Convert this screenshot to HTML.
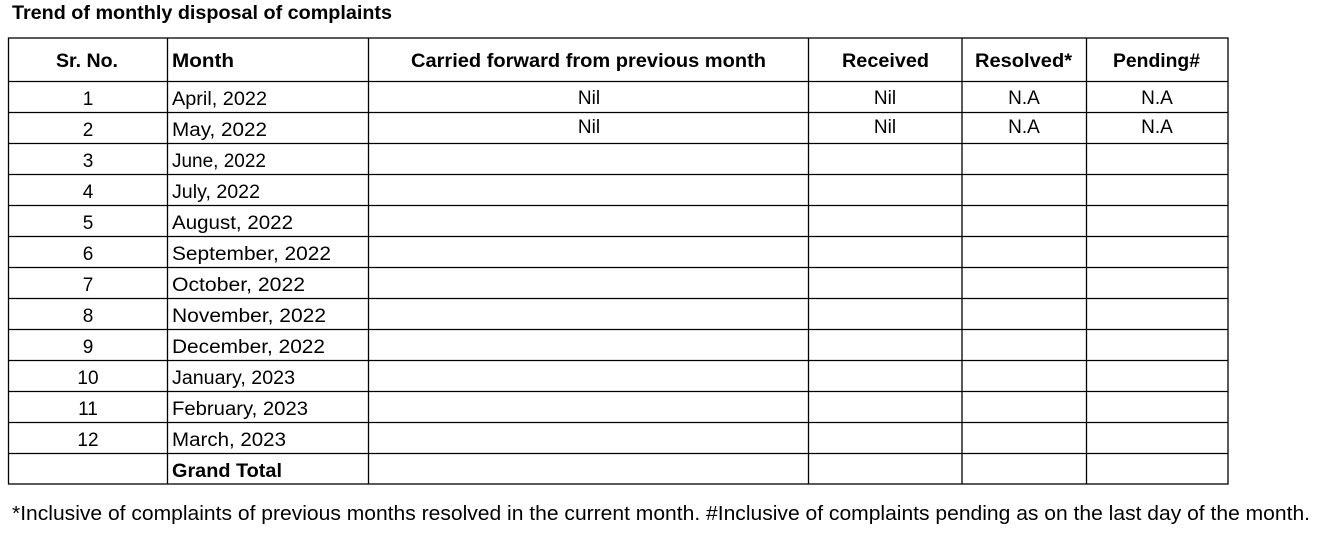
<!DOCTYPE html>
<html><head><meta charset="utf-8"><style>
html,body{margin:0;padding:0;background:#fff;}
svg{display:block;}
text{font-family:"Liberation Sans",sans-serif;fill:#000;}
.b{font-weight:bold;}
</style></head><body>
<svg width="1321" height="542" viewBox="0 0 1321 542" xmlns="http://www.w3.org/2000/svg">
<text x="12" y="19" class="b" font-size="19" textLength="380" lengthAdjust="spacingAndGlyphs">Trend of monthly disposal of complaints</text>
<g stroke="#000" stroke-width="1.3" fill="none">
<rect x="8.5" y="38" width="1219.5" height="446"/>
<line x1="167.5" y1="38" x2="167.5" y2="484"/>
<line x1="368.5" y1="38" x2="368.5" y2="484"/>
<line x1="808.5" y1="38" x2="808.5" y2="484"/>
<line x1="962" y1="38" x2="962" y2="484"/>
<line x1="1086.5" y1="38" x2="1086.5" y2="484"/>
<line x1="8" y1="81.5" x2="1228" y2="81.5"/>
<line x1="8" y1="112.5" x2="1228" y2="112.5"/>
<line x1="8" y1="143.5" x2="1228" y2="143.5"/>
<line x1="8" y1="174.5" x2="1228" y2="174.5"/>
<line x1="8" y1="205.5" x2="1228" y2="205.5"/>
<line x1="8" y1="236.5" x2="1228" y2="236.5"/>
<line x1="8" y1="267.5" x2="1228" y2="267.5"/>
<line x1="8" y1="298.5" x2="1228" y2="298.5"/>
<line x1="8" y1="329.5" x2="1228" y2="329.5"/>
<line x1="8" y1="360.5" x2="1228" y2="360.5"/>
<line x1="8" y1="391.5" x2="1228" y2="391.5"/>
<line x1="8" y1="422.5" x2="1228" y2="422.5"/>
<line x1="8" y1="453.5" x2="1228" y2="453.5"/>
</g>
<g class="b" font-size="19">
<text x="56" y="67" textLength="62" lengthAdjust="spacingAndGlyphs">Sr. No.</text>
<text x="172" y="67" textLength="62" lengthAdjust="spacingAndGlyphs">Month</text>
<text x="411" y="67" textLength="355" lengthAdjust="spacingAndGlyphs">Carried forward from previous month</text>
<text x="842" y="67" textLength="87" lengthAdjust="spacingAndGlyphs">Received</text>
<text x="975" y="67" textLength="97" lengthAdjust="spacingAndGlyphs">Resolved*</text>
<text x="1113" y="67" textLength="87" lengthAdjust="spacingAndGlyphs">Pending#</text>
<text x="172" y="477" textLength="110" lengthAdjust="spacingAndGlyphs">Grand Total</text>
</g>
<g font-size="19" text-anchor="middle">
<text x="88" y="105">1</text><text x="88" y="136">2</text><text x="88" y="167">3</text>
<text x="88" y="198">4</text><text x="88" y="229">5</text><text x="88" y="260">6</text>
<text x="88" y="291">7</text><text x="88" y="322">8</text><text x="88" y="353">9</text>
<text x="88" y="384">10</text><text x="88" y="415">11</text><text x="88" y="446">12</text>
<text x="589" y="104">Nil</text><text x="885" y="104">Nil</text><text x="1024" y="104">N.A</text><text x="1157" y="104">N.A</text>
<text x="589" y="133">Nil</text><text x="885" y="133">Nil</text><text x="1024" y="133">N.A</text><text x="1157" y="133">N.A</text>
</g>
<g font-size="19">
<text x="172" y="105" textLength="95" lengthAdjust="spacingAndGlyphs">April, 2022</text>
<text x="172" y="136" textLength="95" lengthAdjust="spacingAndGlyphs">May, 2022</text>
<text x="172" y="167" textLength="94" lengthAdjust="spacingAndGlyphs">June, 2022</text>
<text x="172" y="198" textLength="88" lengthAdjust="spacingAndGlyphs">July, 2022</text>
<text x="172" y="229" textLength="121" lengthAdjust="spacingAndGlyphs">August, 2022</text>
<text x="172" y="260" textLength="159" lengthAdjust="spacingAndGlyphs">September, 2022</text>
<text x="172" y="291" textLength="133" lengthAdjust="spacingAndGlyphs">October, 2022</text>
<text x="172" y="322" textLength="154" lengthAdjust="spacingAndGlyphs">November, 2022</text>
<text x="172" y="353" textLength="153" lengthAdjust="spacingAndGlyphs">December, 2022</text>
<text x="172" y="384" textLength="123" lengthAdjust="spacingAndGlyphs">January, 2023</text>
<text x="172" y="415" textLength="136" lengthAdjust="spacingAndGlyphs">February, 2023</text>
<text x="172" y="446" textLength="114" lengthAdjust="spacingAndGlyphs">March, 2023</text>
</g>
<text x="12" y="520" font-size="20" textLength="1298" lengthAdjust="spacingAndGlyphs">*Inclusive of complaints of previous months resolved in the current month. #Inclusive of complaints pending as on the last day of the month.</text>
</svg>
</body></html>
